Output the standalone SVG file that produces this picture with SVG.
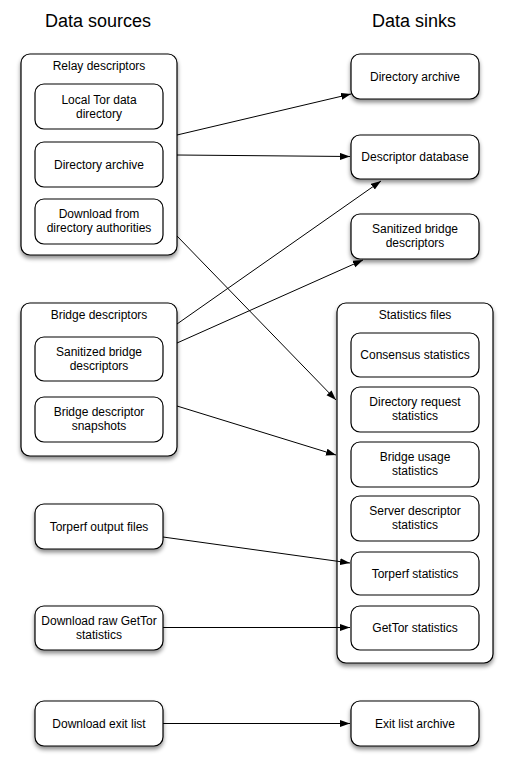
<svg xmlns="http://www.w3.org/2000/svg" width="513" height="770" viewBox="0 0 513 770">
<style>
.box{fill:#fff;stroke:#000;stroke-width:1.2}
.sh{filter:url(#shadow)}
text{font-family:"Liberation Sans",Arial,sans-serif;font-size:12px;fill:#000;text-anchor:middle}
.title{font-size:18px}
.conn{stroke:#000;stroke-width:1;fill:none;marker-end:url(#arr)}
</style>
<defs>
<filter id="shadow" x="-20%" y="-20%" width="140%" height="140%">
<feDropShadow dx="0" dy="3" stdDeviation="2.2" flood-color="#000" flood-opacity="0.45"/>
</filter>
<marker id="arr" markerUnits="userSpaceOnUse" markerWidth="11" markerHeight="8" refX="10" refY="3.5" orient="auto">
<path d="M0,0 L10,3.5 L0,7 z" fill="#000"/>
</marker>
</defs>
<rect width="513" height="770" fill="#fff"/>
<text class="title" x="98" y="27">Data sources</text>
<text class="title" x="414" y="27">Data sinks</text>

<g id="relay-descriptors">
<rect class="box sh" x="21" y="54" width="156" height="201" rx="9"/>
<text x="99" y="70">Relay descriptors</text>
</g>
<g id="local-tor">
<rect class="box" x="35" y="84" width="128" height="45" rx="9"/>
<text x="99" y="104">Local Tor data</text>
<text x="99" y="118">directory</text>
</g>
<g id="src-directory-archive">
<rect class="box" x="35" y="142" width="128" height="45" rx="9"/>
<text x="99" y="168.5">Directory archive</text>
</g>
<g id="download-authorities">
<rect class="box" x="35" y="199" width="128" height="45" rx="9"/>
<text x="99" y="218">Download from</text>
<text x="99" y="232">directory authorities</text>
</g>

<g id="bridge-descriptors">
<rect class="box sh" x="21" y="303" width="156" height="153" rx="9"/>
<text x="99" y="319">Bridge descriptors</text>
</g>
<g id="src-sanitized-bridge">
<rect class="box" x="35" y="337" width="128" height="44" rx="9"/>
<text x="99" y="355.5">Sanitized bridge</text>
<text x="99" y="369.5">descriptors</text>
</g>
<g id="bridge-snapshots">
<rect class="box" x="35" y="397" width="128" height="45" rx="9"/>
<text x="99" y="416">Bridge descriptor</text>
<text x="99" y="430">snapshots</text>
</g>

<g id="torperf-output">
<rect class="box sh" x="35" y="504" width="128" height="45" rx="9"/>
<text x="99" y="530.5">Torperf output files</text>
</g>
<g id="download-gettor">
<rect class="box sh" x="35" y="606" width="128" height="44" rx="9"/>
<text x="99" y="624.5">Download raw GetTor</text>
<text x="99" y="638.5">statistics</text>
</g>
<g id="download-exit-list">
<rect class="box sh" x="35" y="701" width="128" height="45" rx="9"/>
<text x="99" y="727.5">Download exit list</text>
</g>

<g id="sink-directory-archive">
<rect class="box sh" x="351" y="54" width="128" height="45" rx="9"/>
<text x="415" y="80.5">Directory archive</text>
</g>
<g id="descriptor-database">
<rect class="box sh" x="351" y="135" width="128" height="44" rx="9"/>
<text x="415" y="161">Descriptor database</text>
</g>
<g id="sink-sanitized-bridge">
<rect class="box sh" x="351" y="214" width="128" height="45" rx="9"/>
<text x="415" y="233">Sanitized bridge</text>
<text x="415" y="247">descriptors</text>
</g>

<g id="statistics-files">
<rect class="box sh" x="337" y="303" width="156" height="360" rx="9"/>
<text x="415" y="319">Statistics files</text>
</g>
<g id="consensus-statistics">
<rect class="box" x="351" y="333" width="128" height="44" rx="9"/>
<text x="415" y="359">Consensus statistics</text>
</g>
<g id="directory-request-statistics">
<rect class="box" x="351" y="387" width="128" height="45" rx="9"/>
<text x="415" y="406">Directory request</text>
<text x="415" y="420">statistics</text>
</g>
<g id="bridge-usage-statistics">
<rect class="box" x="351" y="442" width="128" height="45" rx="9"/>
<text x="415" y="461">Bridge usage</text>
<text x="415" y="475">statistics</text>
</g>
<g id="server-descriptor-statistics">
<rect class="box" x="351" y="496" width="128" height="45" rx="9"/>
<text x="415" y="515">Server descriptor</text>
<text x="415" y="529">statistics</text>
</g>
<g id="torperf-statistics">
<rect class="box" x="351" y="552" width="128" height="43" rx="9"/>
<text x="415" y="577.5">Torperf statistics</text>
</g>
<g id="gettor-statistics">
<rect class="box" x="351" y="606" width="128" height="44" rx="9"/>
<text x="415" y="632">GetTor statistics</text>
</g>

<g id="exit-list-archive">
<rect class="box sh" x="351" y="701" width="128" height="45" rx="9"/>
<text x="415" y="727.5">Exit list archive</text>
</g>

<g id="connectors">
<line class="conn" x1="177" y1="135" x2="351" y2="94"/>
<line class="conn" x1="177" y1="155" x2="350" y2="156.5"/>
<line class="conn" x1="177" y1="236" x2="336" y2="400"/>
<line class="conn" x1="177" y1="324" x2="381" y2="181"/>
<line class="conn" x1="177" y1="343" x2="363" y2="260"/>
<line class="conn" x1="177" y1="406" x2="336" y2="455"/>
<line class="conn" x1="163" y1="537" x2="350" y2="563"/>
<line class="conn" x1="163" y1="627.5" x2="350" y2="627.5"/>
<line class="conn" x1="163" y1="723.5" x2="350" y2="723.5"/>
</g>
</svg>
